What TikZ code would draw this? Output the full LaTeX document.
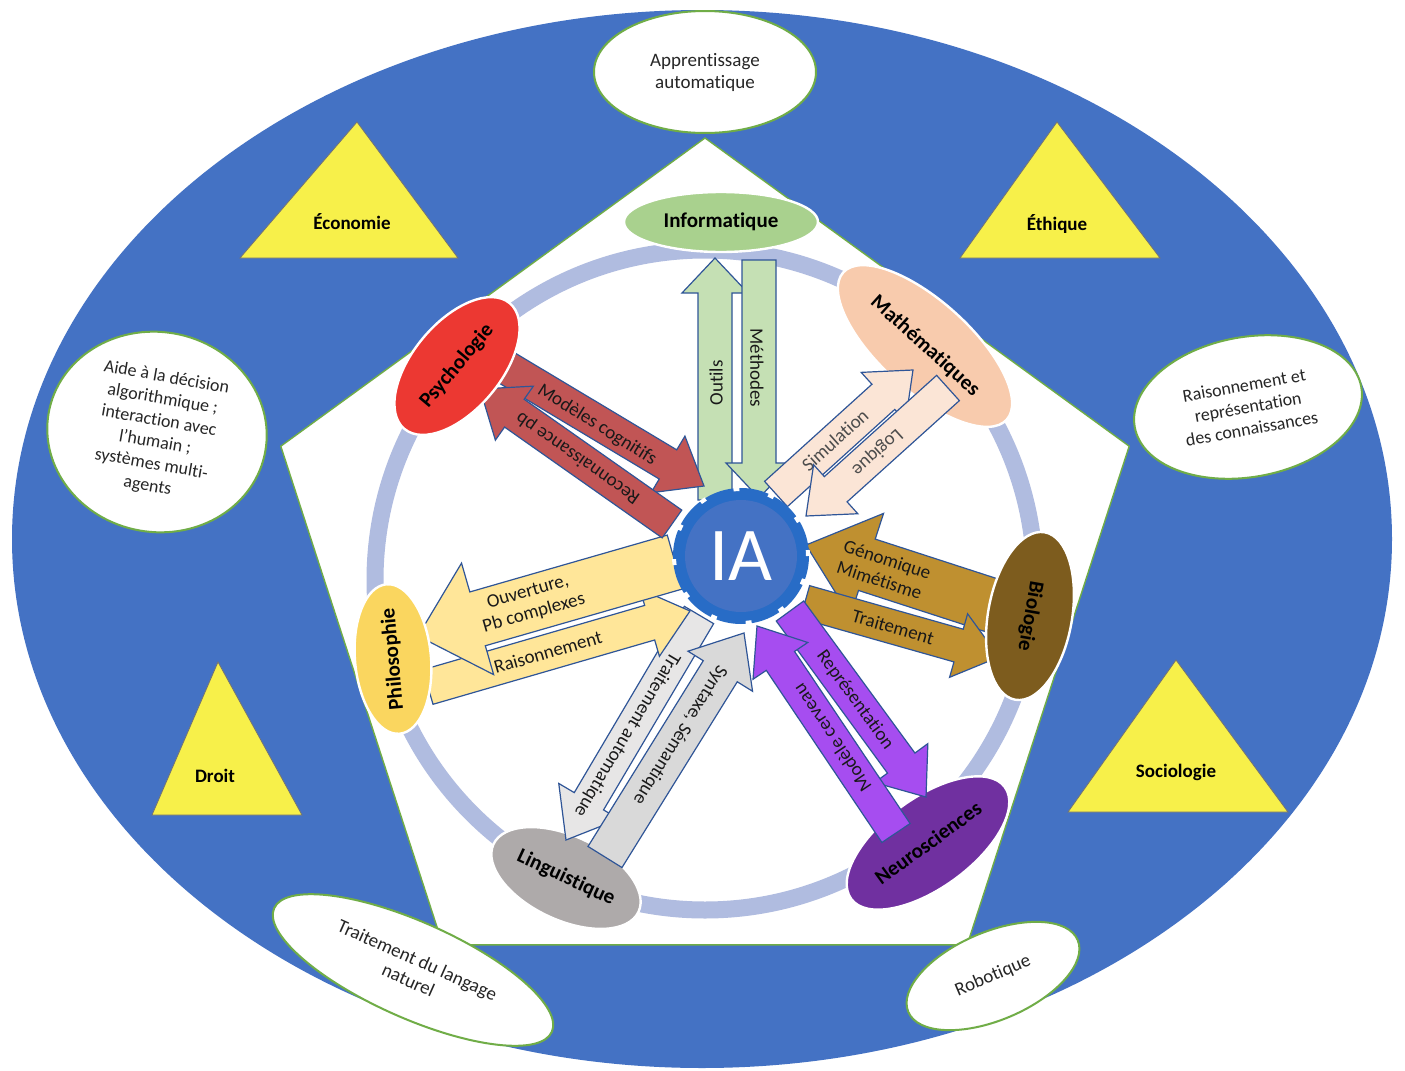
\documentclass[tikz,border=0pt]{standalone}
\usepackage{fontspec}
\setmainfont{Carlito}[Ligatures={NoCommon}]
\usetikzlibrary{shapes.geometric,calc}

\definecolor{bgblue}{RGB}{68,114,196}
\definecolor{ringblue}{RGB}{176,188,224}
\definecolor{edgegreen}{RGB}{112,173,71}
\definecolor{triyellow}{RGB}{247,240,74}
\definecolor{arrowedge}{RGB}{47,85,151}
\definecolor{infofill}{RGB}{169,209,142}
\definecolor{infoarrow}{RGB}{197,224,180}
\definecolor{mathfill}{RGB}{248,203,173}
\definecolor{matharrow}{RGB}{251,229,214}
\definecolor{biofill}{RGB}{125,92,30}
\definecolor{bioarrow}{RGB}{191,144,48}
\definecolor{neurofill}{RGB}{112,48,160}
\definecolor{neuroarrow}{RGB}{166,77,240}
\definecolor{lingfill}{RGB}{174,170,170}
\definecolor{lingarrowA}{RGB}{231,230,230}
\definecolor{lingarrowB}{RGB}{217,217,217}
\definecolor{philofill}{RGB}{250,214,95}
\definecolor{philoarrow}{RGB}{255,230,153}
\definecolor{psyfill}{RGB}{236,56,50}
\definecolor{psyarrow}{RGB}{193,85,85}
\definecolor{gearouter}{RGB}{40,108,198}
\definecolor{gearinner}{RGB}{68,114,196}

% block arrow: #1 style, #2 start, #3 tip, #4 body half-width, #5 head half-width, #6 head length (all in px), #7 name
\newcommand\blockarrow[7]{%
  \pgfmathsetlengthmacro\baw{#4*0.5pt}%
  \pgfmathsetlengthmacro\bahw{#5*0.5pt}%
  \pgfmathsetlengthmacro\bahl{#6*0.5pt}%
  \coordinate (#7-s) at (#2);
  \coordinate (#7-t) at (#3);
  \coordinate (#7-h) at ($(#7-t)!\bahl!(#7-s)$);
  \draw[barrow,#1] ($(#7-s)!\baw!90:(#7-t)$) -- ($(#7-h)!\baw!90:(#7-t)$)
     -- ($(#7-h)!\bahw!90:(#7-t)$) -- (#7-t) -- ($(#7-h)!\bahw!-90:(#7-t)$)
     -- ($(#7-h)!\baw!-90:(#7-t)$) -- ($(#7-s)!\baw!-90:(#7-t)$) -- cycle;
}

\tikzset{
  discipline/.style={ellipse, inner sep=0pt, draw=white, line width=1.2pt,
    font=\bfseries\fontsize{10.5}{12}\selectfont, text=black},
  field/.style={ellipse, inner sep=0pt, fill=white, draw=edgegreen, line width=1pt,
    font=\fontsize{9.5}{11}\selectfont, align=center, text=black!85},
  society/.style={font=\bfseries\fontsize{9.5}{11}\selectfont, text=black},
  tri/.style={fill=triyellow, draw=black!55, line width=0.4pt, line join=miter},
  barrow/.style={draw=arrowedge, line width=0.6pt, line join=miter},
  alabel/.style={font=\fontsize{9.5}{11}\selectfont, text=black!90, align=center, inner sep=0pt},
}

\begin{document}
\begin{tikzpicture}[x=0.5pt,y=-0.5pt]
\useasboundingbox (0,0) rectangle (1405,1071);
\fill[white] (0,0) rectangle (1405,1071);

% outer blue field
\fill[bgblue] (702,539) ellipse [x radius=345pt, y radius=264.5pt];

% society triangles
\draw[tri] (357,122) -- (458,258) -- (240,258) -- cycle;
\node[society] (eco) at (352,222) {Économie};
\draw[tri] (1057,122) -- (1160,258) -- (960,258) -- cycle;
\node[society] (eth) at (1057,224) {Éthique};
\draw[tri] (218,662) -- (302,815) -- (152,815) -- cycle;
\node[society] (droit) at (215,776) {Droit};
\draw[tri] (1176,660) -- (1288,812) -- (1068,812) -- cycle;
\node[society] (socio) at (1176,772) {Sociologie};

% white pentagon
\draw[fill=white, draw=edgegreen, line width=0.7pt, line join=miter]
  (705,138) -- (1129.2,446.2) -- (967.2,944.8) -- (442.8,944.8) -- (280.8,446.2) -- cycle;

% application fields
\node[field, minimum width=111pt, minimum height=61pt] (appr) at (705,72)
  {Apprentissage\\automatique};
\node[field, minimum width=110pt, minimum height=100pt, rotate=-10,
  font=\fontsize{9}{11}\selectfont] (aide) at (157,432)
  {Aide à la décision\\algorithmique ;\\interaction avec\\l’humain ;\\systèmes multi-\\agents};
\node[field, minimum width=115pt, minimum height=70pt, rotate=10,
  font=\fontsize{9}{11}\selectfont] (rais) at (1248,407)
  {Raisonnement et\\représentation\\des connaissances};
\node[field, minimum width=152pt, minimum height=48pt, rotate=-24] (tal) at (413,970)
  {Traitement du langage\\naturel};
\node[field, minimum width=92pt, minimum height=44pt, rotate=23] (robo) at (993,976)
  {Robotique};

% ring
\draw[ringblue, line width=8.5pt] (705,580) circle (165pt);

% disciplines (behind arrows)
\node[discipline, fill=infofill, minimum width=97pt, minimum height=30pt] (info) at (721,222) {Informatique};
\node[discipline, fill=mathfill, minimum width=110pt, minimum height=45pt, rotate=-42] (math) at (925,346) {Mathématiques};
\node[discipline, fill=neurofill, minimum width=95pt, minimum height=45pt, rotate=36] (neuro) at (928,843) {Neurosciences};
\node[discipline, fill=lingfill, minimum width=80pt, minimum height=42pt, rotate=-25] (ling) at (566,878) {Linguistique};

% Informatique
\blockarrow{fill=infoarrow}{715,500}{715,258}{17}{33}{35}{outils}
\node[alabel, rotate=90] (outilsl) at (716,383) {Outils};
\blockarrow{fill=infoarrow}{759,260}{759,498}{17}{33}{35}{meth}
\node[alabel, rotate=-90] (methl) at (757,368) {Méthodes};

% Mathématiques
\blockarrow{fill=matharrow}{776,494}{913,370}{17}{33}{40}{simu}
\node[alabel, rotate=42, text=black!70] (simul) at (835,440) {Simulation};
\blockarrow{fill=matharrow}{948,388}{806,516}{17}{33}{40}{logi}
\node[alabel, rotate=-138, text=black!70] (logil) at (877,452) {Logique};

% Biologie
\blockarrow{fill=bioarrow}{1000,608}{806,545}{27}{54}{64}{geno}
\node[alabel, rotate=-18, align=left] (genol) at (884,570) {Génomique\\Mimétisme};
\blockarrow{fill=bioarrow}{805,602}{999,657}{17}{33}{42}{trait}
\node[alabel, rotate=-16] (traitl) at (893,627) {Traitement};

% Neurosciences
\blockarrow{fill=neuroarrow}{790,611}{926,797}{17}{33}{42}{repr}
\node[alabel, rotate=-54] (reprl) at (855,700) {Représentation};
\blockarrow{fill=neuroarrow}{896,833}{757,626}{17}{33}{42}{cerv}
\node[alabel, rotate=124] (cervl) at (832,738) {Modèle cerveau};

% Linguistique
\blockarrow{fill=lingarrowA}{699,615}{566,840}{17}{35}{45}{tauto}
\node[alabel, rotate=-121] (tautol) at (627,735) {Traitement automatique};
\blockarrow{fill=lingarrowB}{605,857}{744,633}{20}{38}{45}{synt}
\node[alabel, rotate=-122] (syntl) at (680,735) {Syntaxe, Sémantique};

% Philosophie
\blockarrow{fill=philoarrow}{428,687}{690,611}{18}{35}{42}{raiso}
\node[alabel, rotate=16] (raisol) at (548,652) {Raisonnement};
\blockarrow{fill=philoarrow}{675,562}{418,636}{28}{58}{62}{ouv}
\node[alabel, rotate=16] (ouvl) at (531,603) {Ouverture,\\Pb complexes};

% Psychologie
\blockarrow{fill=psyarrow}{507,368}{704,486}{17}{33}{42}{cogn}
\node[alabel, rotate=-32] (cognl) at (597,425) {Modèles cognitifs};
\blockarrow{fill=psyarrow}{672,524}{480,389}{17}{33}{42}{reco}
\node[alabel, rotate=145] (recol) at (578,458) {Reconnaissance pb};

% disciplines (in front of arrows)
\node[discipline, fill=biofill, minimum width=85pt, minimum height=42pt, rotate=-100] (bio) at (1030,616) {Biologie};
\node[discipline, fill=philofill, minimum width=75pt, minimum height=38pt, rotate=95] (philo) at (393,659) {Philosophie};
\node[discipline, fill=psyfill, minimum width=82pt, minimum height=44pt, rotate=50] (psy) at (457,366) {Psychologie};

% central gear
\coordinate (iac) at (741,556);
\fill[gearouter] (iac) circle (34pt);
\draw[white, line width=2pt, dash pattern=on 3pt off 14.8pt] (iac) circle (33.5pt);
\fill[gearinner] (iac) circle (28pt);
\node[text=white, font=\fontsize{38}{40}\selectfont, inner sep=0pt] (ia) at (iac) {IA};
\end{tikzpicture}
\end{document}
